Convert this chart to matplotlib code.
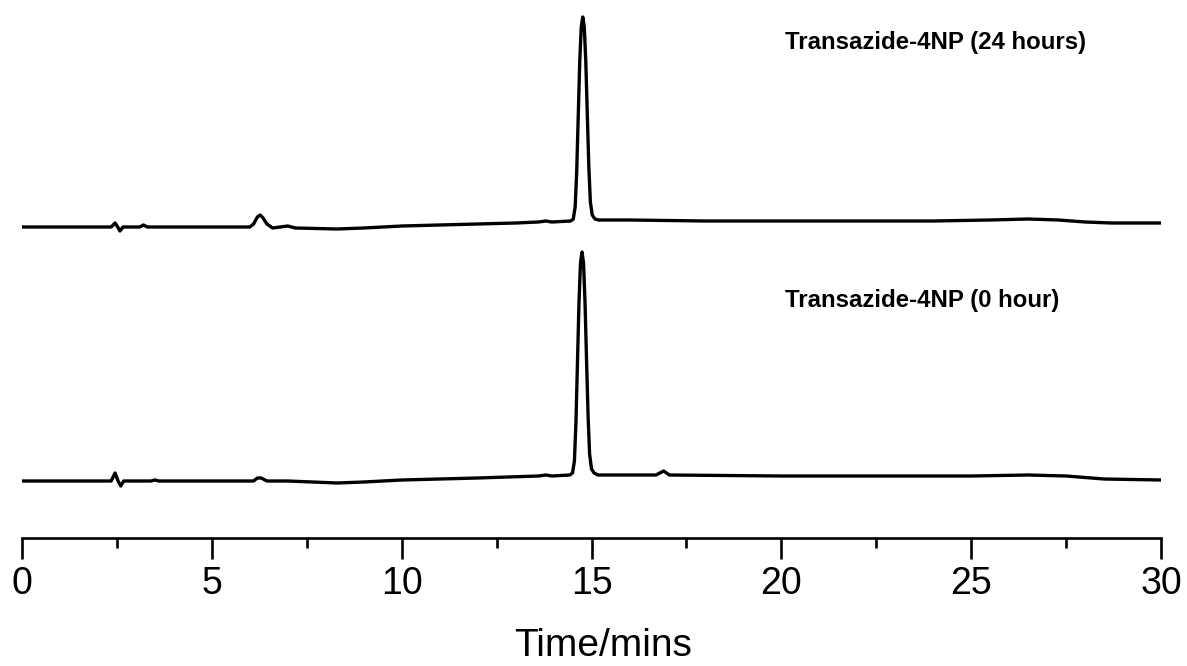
import matplotlib
matplotlib.use("Agg")
import matplotlib.pyplot as plt
from matplotlib.ticker import MultipleLocator

# ---- data (retention time in min, detector signal in arbitrary units) ----
time_24h = [0.0, 2.35, 2.45, 2.52, 2.58, 2.66, 3.1, 3.2, 3.3, 6.0, 6.1, 6.2, 6.27, 6.35,
            6.45, 6.6, 6.8, 7.0, 7.2, 8.3, 9.0, 10.0, 11.0, 12.0, 13.0, 13.6, 13.8, 13.95,
            14.45, 14.52, 14.57, 14.61, 14.65, 14.69, 14.73, 14.77, 14.81, 14.85,
            14.89, 14.93, 14.97, 15.02, 15.09, 15.19, 16.0, 18.0, 20.0, 22.0, 24.0,
            25.5, 26.5, 27.3, 28.0, 28.7, 30.0]
signal_24h = [0, 0, 4, 0, -4, 0, 0, 2, 0, 0, 3, 10, 12, 9,
              3, -1, 0, 1, -1, -2, -1, 1, 2, 3, 4, 5, 6, 5,
              6, 8, 20, 55, 110, 165, 200, 210, 200, 165,
              112, 60, 25, 12, 8, 7, 7, 6, 6, 6, 6,
              7, 8, 7, 5, 4, 4]

time_0h = [0.0, 2.35, 2.45, 2.53, 2.6, 2.68, 3.4, 3.5, 3.6, 6.1, 6.2, 6.3, 6.45, 7.0,
           8.3, 9.0, 10.0, 12.0, 13.6, 13.8, 13.95, 14.43, 14.50, 14.55, 14.59, 14.63,
           14.67, 14.71, 14.75, 14.79, 14.83, 14.87, 14.91, 14.95, 15.00, 15.07,
           15.17, 16.7, 16.9, 17.05, 20.0, 25.0, 26.5, 27.5, 28.5, 30.0]
signal_0h = [0, 0, 8, 0, -5, 0, 0, 1, 0, 0, 3, 3, 0, 0,
             -2, -1, 1, 3, 5, 6, 5, 6, 8, 20, 58, 118, 178, 218, 229, 218,
             178, 120, 65, 27, 12, 8, 6, 6, 10, 6, 5, 5, 6, 5, 2, 1]

offset_24h = 311
offset_0h = 57

labels = ["Transazide-4NP (24 hours)", "Transazide-4NP (0 hour)"]
x_ticks = [0, 5, 10, 15, 20, 25, 30]

# ---- figure ----
W, H = 1187, 666
fig = plt.figure(figsize=(W / 100, H / 100), dpi=100)
ax = fig.add_axes([22 / W, (H - 538) / H, (1161 - 22) / W, 538 / H])

ax.plot(time_24h, [s + offset_24h for s in signal_24h], color="black", lw=2.4,
        solid_joinstyle="round", solid_capstyle="round")
ax.plot(time_0h, [s + offset_0h for s in signal_0h], color="black", lw=2.4,
        solid_joinstyle="round", solid_capstyle="round")

ax.set_xlim(0, 30)
ax.set_ylim(0, 538)

for sp in ["left", "right", "top"]:
    ax.spines[sp].set_visible(False)
ax.spines["bottom"].set_linewidth(1.9)
ax.set_yticks([])
ax.set_xticks(x_ticks)
ax.xaxis.set_minor_locator(MultipleLocator(2.5))
ax.tick_params(axis="x", which="major", direction="out", length=15, width=1.9,
               labelsize=27, pad=5)
ax.tick_params(axis="x", which="minor", direction="out", length=7, width=1.9)
for lab in ax.get_xticklabels():
    lab.set_fontfamily("Liberation Sans")

ax.set_xlabel("Time/mins", fontsize=28, family="Liberation Sans", labelpad=19,
              x=0.51)

ax.text(20.1, 496, labels[0], fontsize=17.3, fontweight="bold",
        family="Liberation Sans", va="center", ha="left")
ax.text(20.1, 238, labels[1], fontsize=17.3, fontweight="bold",
        family="Liberation Sans", va="center", ha="left")

fig.savefig("out.png", dpi=100)
